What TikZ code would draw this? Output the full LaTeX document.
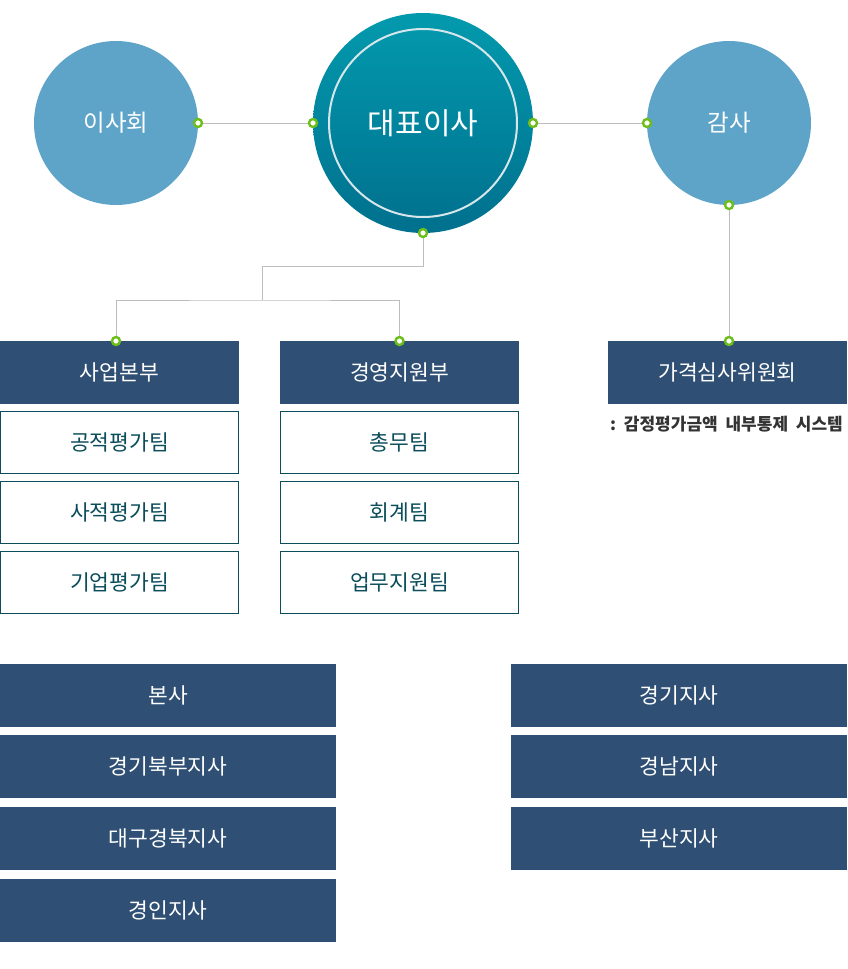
\documentclass[tikz,border=0pt]{standalone}
\usepackage{fontspec}
\setmainfont{Noto Sans CJK KR}
\usetikzlibrary{positioning}
\definecolor{navy}{HTML}{2F5074}
\definecolor{teal}{HTML}{0B4D5A}
\definecolor{sky}{HTML}{5DA4C8}
\definecolor{ctop}{HTML}{039AAE}
\definecolor{cbot}{HTML}{00708E}
\definecolor{lgray}{HTML}{BDBDBD}
\definecolor{dgreen}{HTML}{6DBE1A}
\definecolor{notec}{HTML}{333333}
\tikzset{
  x=1pt,y=-1pt,
  sidecirc/.style={circle,fill=sky,draw=none,minimum size=164pt,inner sep=0pt,outer sep=0pt,text=white,font=\fontsize{23.5}{26}\selectfont},
  ceocirc/.style={circle,shade,top color=ctop,bottom color=cbot,draw=none,minimum size=220pt,inner sep=0pt,outer sep=0pt},
  headbox/.style={rectangle,fill=navy,draw=none,minimum width=239pt,minimum height=63pt,inner sep=0pt,outer sep=0pt,anchor=north west,text=white,font=\fontsize{21.5}{24}\selectfont},
  subbox/.style={rectangle,fill=white,draw=teal,line width=1.2pt,minimum width=237.8pt,minimum height=61.8pt,inner sep=0pt,outer sep=0pt,anchor=north west,text=teal,font=\fontsize{21.5}{24}\selectfont},
  branch/.style={rectangle,fill=navy,draw=none,minimum width=336pt,minimum height=63pt,inner sep=0pt,outer sep=0pt,anchor=north west,text=white,font=\fontsize{21.5}{24}\selectfont},
  conn/.style={draw=lgray,line width=1pt},
  gdot/.style={circle,fill=white,draw=dgreen,line width=2.4pt,minimum size=8pt,inner sep=0pt}
}
\begin{document}
\begin{tikzpicture}
\useasboundingbox (0,0) rectangle (847,969);
% circles
\node[sidecirc] (board) at (116,123) {이사회};
\node[ceocirc] (ceo) at (423,123) {};
\node[circle,draw={rgb,255:red,215;green,230;blue,234},line width=2pt,minimum size=188pt,inner sep=0pt] (ceoin) at (423,123) {};
\node[text=white,font=\fontsize{30}{34}\selectfont] (ceolbl) at (423,123) {대표이사};
\node[sidecirc] (audit) at (729,123) {감사};
% head boxes
\node[headbox] (biz) at (0,341) {사업본부};
\node[headbox] (mgmt) at (280,341) {경영지원부};
\node[headbox] (price) at (608,341) {가격심사위원회};
\node[anchor=west,text=notec,font=\fontsize{17}{20}\selectfont\bfseries,inner sep=0pt] (note) at (610,424) {:\ \ 감정평가금액\ \ 내부통제\ \ 시스템};
% sub boxes
\node[subbox] (s1) at (0.6,411.6) {공적평가팀};
\node[subbox] (s2) at (0.6,481.6) {사적평가팀};
\node[subbox] (s3) at (0.6,551.6) {기업평가팀};
\node[subbox] (m1) at (280.6,411.6) {총무팀};
\node[subbox] (m2) at (280.6,481.6) {회계팀};
\node[subbox] (m3) at (280.6,551.6) {업무지원팀};
% branches
\node[branch] (b1) at (0,664) {본사};
\node[branch] (b2) at (0,735) {경기북부지사};
\node[branch] (b3) at (0,807) {대구경북지사};
\node[branch] (b4) at (0,879) {경인지사};
\node[branch] (r1) at (511,664) {경기지사};
\node[branch] (r2) at (511,735) {경남지사};
\node[branch] (r3) at (511,807) {부산지사};
% connectors
\coordinate (j1) at (262,266);
\coordinate (j2) at (262,300);
\coordinate (bdot) at (116,341);
\coordinate (pdot) at (audit.south |- price.north);
\draw[conn] (board.east) -- (ceo.west);
\draw[conn] (ceo.east) -- (audit.west);
\draw[conn] (ceo.south) |- (j1) -- (j2);
\draw[conn] (bdot) |- (j2) -| (mgmt.north);
\draw[conn] (audit.south) -- (pdot);
% dots
\foreach \p in {board.east,ceo.west,ceo.east,audit.west,ceo.south,audit.south,bdot,mgmt.north,pdot}
  \node[gdot] at (\p) {};
\end{tikzpicture}
\end{document}
